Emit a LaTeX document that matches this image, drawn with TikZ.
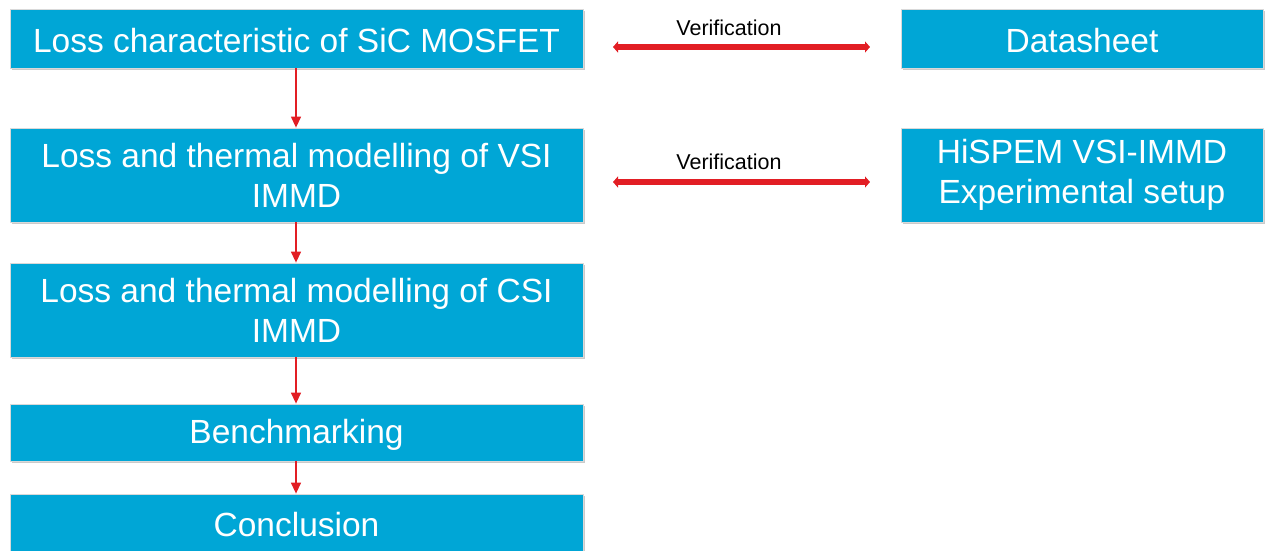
\documentclass[tikz,border=0pt]{standalone}
\usepackage{fontspec}
\setmainfont{Liberation Sans}
\usetikzlibrary{arrows.meta,shadows}
\definecolor{boxblue}{RGB}{0,166,214}
\definecolor{arrred}{RGB}{226,30,36}
\newcommand{\lowtext}[1]{\raisebox{-2.5pt}[\height][\depth]{#1}}
\begin{document}
\begin{tikzpicture}[x=1pt,y=-1pt,
  stepbox/.style={draw=black!15,line width=0.8pt,fill=boxblue,text=white,
    font=\fontsize{33.5}{40}\selectfont,align=center,inner sep=0pt,
    drop shadow={shadow xshift=1.5pt,shadow yshift=-2pt,opacity=0.35,fill=black!60}},
  flow/.style={draw=arrred,line width=1.3pt,-{Triangle[length=11pt,width=10pt]}},
  verif/.style={draw=arrred,line width=5.5pt,{Triangle[length=5pt,width=11pt]}-{Triangle[length=5pt,width=11pt]}},
  vlabel/.style={font=\fontsize{21.5}{24}\selectfont,text=black,inner sep=0pt}]
\useasboundingbox (0,0) rectangle (1270,551);
\begin{scope}
\clip (0,0) rectangle (1270,551);
\node[stepbox,minimum width=573pt,minimum height=59pt] (a) at (296.5,38.5) {\lowtext{Loss characteristic of SiC MOSFET}};
\node[stepbox,minimum width=573pt,minimum height=94pt] (b) at (296.5,175) {Loss and thermal modelling of VSI\\IMMD};
\node[stepbox,minimum width=573pt,minimum height=94pt] (c) at (296.5,310) {Loss and thermal modelling of CSI\\IMMD};
\node[stepbox,minimum width=573pt,minimum height=57pt] (d) at (296.5,432.5) {\lowtext{Benchmarking}};
\node[stepbox,minimum width=573pt,minimum height=60pt] (e) at (296.5,524) {};
\node[text=white,font=\fontsize{33.5}{40}\selectfont,inner sep=0pt] (et) at (296.5,524.5) {Conclusion};
\node[stepbox,minimum width=362pt,minimum height=59pt] (f) at (1082,38.5) {\lowtext{Datasheet}};
\node[stepbox,minimum width=362pt,minimum height=94pt] (g) at (1082,175) {HiSPEM VSI-IMMD\\Experimental setup};
\end{scope}
\draw[flow] (a.south -| 296,0) -- (b.north -| 296,0);
\draw[flow] (b.south -| 296,0) -- (c.north -| 296,0);
\draw[flow] (c.south -| 296,0) -- (d.north -| 296,0);
\draw[flow] (d.south -| 296,0) -- (e.north -| 296,0);
\coordinate (v1l) at (613,47);
\coordinate (v1r) at (870,47);
\coordinate (v2l) at (613,182);
\coordinate (v2r) at (870,182);
\draw[verif] (v1l) -- (v1r);
\draw[verif] (v2l) -- (v2r);
\node[vlabel] (l1) at (729,28) {Verification};
\node[vlabel] (l2) at (729,162) {Verification};
\end{tikzpicture}
\end{document}
